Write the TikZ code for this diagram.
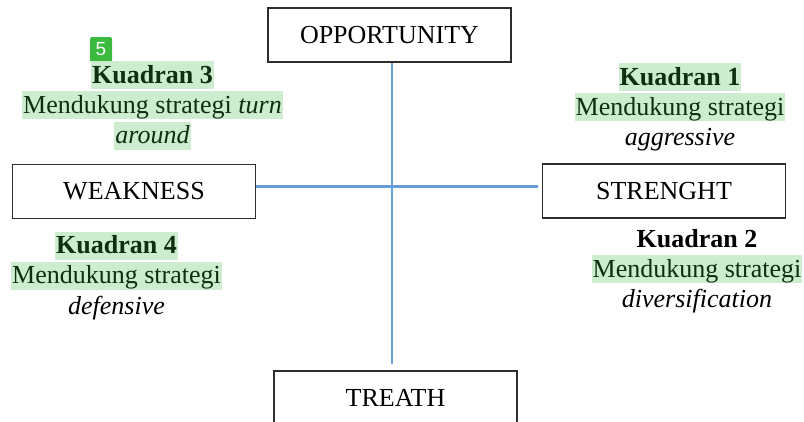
\documentclass[tikz,border=0pt]{standalone}
\usepackage{fontspec}
\setmainfont{Liberation Serif}
\newfontfamily\badgefont{Liberation Sans}
\usetikzlibrary{positioning}

\definecolor{hlgreen}{RGB}{206,236,208}
\definecolor{hltext}{RGB}{16,46,16}
\definecolor{axisblue}{RGB}{100,156,220}
\definecolor{badgegreen}{RGB}{60,186,62}
\definecolor{boxgray}{RGB}{45,45,45}

\newcommand{\quadfont}{\fontsize{26}{30}\selectfont}

\tikzset{
  quadbox/.style={draw=boxgray, line width=1.8pt, minimum width=243pt, minimum height=54pt, inner sep=0pt, font=\quadfont},
  hl/.style={fill=hlgreen, text=hltext, inner xsep=1pt, inner ysep=0pt, text height=22pt, text depth=6pt, font=\quadfont},
  nohl/.style={hl, fill=none, text=black},
  hltitle/.style={hl, font=\quadfont\bfseries},
  nohltitle/.style={nohl, font=\quadfont\bfseries},
  axis/.style={draw=axisblue, line width=2.2pt},
  badge/.style={fill=badgegreen, text=white, rounded corners=2pt, minimum width=22pt, minimum height=25pt, inner sep=0pt, font=\badgefont\fontsize{19}{19}\selectfont}
}

\begin{document}
\begin{tikzpicture}[x=1pt, y=-1pt, node distance=2pt]
\useasboundingbox (0,0) rectangle (804,421);
\clip (0,0) rectangle (804,421);

% the four boxes
\foreach \nm/\x/\y/\txt in {opp/389.5/35/OPPORTUNITY, weak/134/191.5/WEAKNESS, strg/664/191/STRENGHT, treath/395.5/398/TREATH}
{
    \node[quadbox] (\nm) at (\x,\y) {\txt};
}

% axes
\coordinate (vx) at (392,0);
\coordinate (hy) at (0,186.5);
\draw[axis] (opp.south -| vx) -- ([yshift=6pt]treath.north -| vx);
\draw[axis] (weak.east |- hy) -- ([xshift=-4pt]strg.west |- hy);

% kuadran 3
\node[badge] (b5) at (101,49.5) {5};
\node[hltitle] (k3) at (152.5,75) {Kuadran 3};
\node[hl, below=of k3] (k3a) {Mendukung strategi \textit{turn}};
\node[hl, below=of k3a] (k3b) {\textit{around}};

% kuadran 1
\node[hltitle] (k1) at (680,77) {Kuadran 1};
\node[hl, below=of k1] (k1a) {Mendukung strategi};
\node[nohl, below=of k1a] (k1b) {\textit{aggressive}};

% kuadran 4
\node[hltitle] (k4) at (116.5,245.5) {Kuadran 4};
\node[hl, below=of k4] (k4a) {Mendukung strategi};
\node[nohl, below=of k4a] (k4b) {\textit{defensive}};

% kuadran 2
\node[nohltitle] (k2) at (697,239) {Kuadran 2};
\node[hl, below=of k2] (k2a) {Mendukung strategi};
\node[nohl, below=of k2a] (k2b) {\textit{diversification}};

\end{tikzpicture}
\end{document}
